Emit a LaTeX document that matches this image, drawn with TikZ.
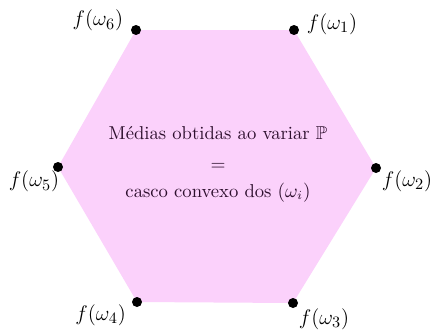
\documentclass[tikz,border=0pt]{standalone}
\usepackage{amssymb}
\begin{document}
\begin{tikzpicture}[x=0.02cm,y=0.02cm]
	% Farben
	\definecolor{hullpink}{RGB}{251, 209, 251}
	\definecolor{hulltext}{RGB}{45, 15, 45}
	\tikzset{
		vdot/.style={circle, fill=black, inner sep=0pt, minimum size=0.2cm},
		vlabel/.style={font=\fontsize{12.4}{15}\selectfont, inner sep=1pt}
	}
	
	% Rahmen
	\useasboundingbox (0,0) rectangle (431,332);
	
	% Ecken
	\coordinate (p1) at (294,302);
	\coordinate (p2) at (376,164);
	\coordinate (p3) at (293,29);
	\coordinate (p4) at (137,30);
	\coordinate (p5) at (58,165);
	\coordinate (p6) at (136,302);
	
	% Fläche
	\fill[hullpink] (p1) -- (p2) -- (p3) -- (p4) -- (p5) -- (p6) -- cycle;
	
	% Punkte
	\foreach \i in {1,...,6} {
		\node[vdot] (w\i) at (p\i) {};
	}
	
	% Beschriftungen
	\node[vlabel, anchor=south west] (l1) at ([xshift=4pt,yshift=-6pt]w1.north east) {$f(\omega_1)$};
	\node[vlabel, anchor=north west] (l2) at ([xshift=0pt,yshift=2pt]w2.south east) {$f(\omega_2)$};
	\node[vlabel, anchor=north west] (l3) at ([xshift=0pt,yshift=0pt]w3.south east) {$f(\omega_3)$};
	\node[vlabel, anchor=north east] (l4) at ([xshift=-3pt,yshift=2pt]w4.south west) {$f(\omega_4)$};
	\node[vlabel, anchor=north east] (l5) at ([xshift=4pt,yshift=1pt]w5.south west) {$f(\omega_5)$};
	\node[vlabel, anchor=south east] (l6) at ([xshift=-4pt,yshift=-4pt]w6.north west) {$f(\omega_6)$};
	
	% Text in der Mitte
	\node[text=hulltext, align=center, font=\fontsize{10.6}{13}\selectfont] (mid) at (218,168)
	{M\'edias obtidas ao variar $\mathbb{P}$\\[5pt] $=$\\[2pt] casco convexo dos $(\omega_i)$};
\end{tikzpicture}
\end{document}
